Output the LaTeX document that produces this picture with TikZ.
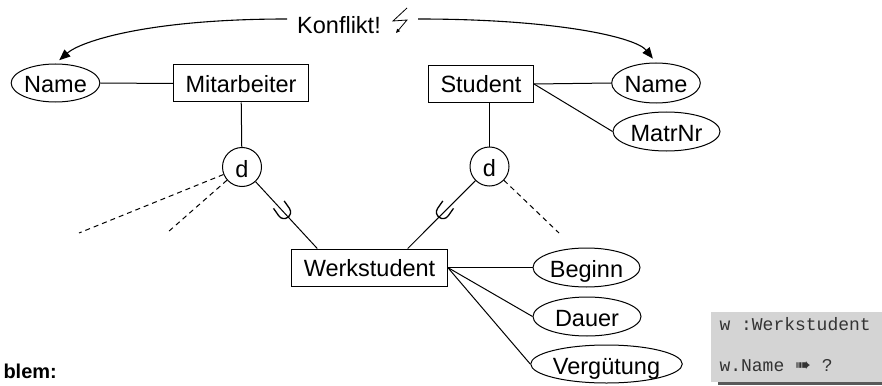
\documentclass[tikz,border=0pt]{standalone}
\usepackage{fontspec}
\setmainfont{Liberation Sans}
\setmonofont{Liberation Mono}
\newfontfamily\dejavu{DejaVu Sans}
\usetikzlibrary{shapes.geometric,arrows.meta,calc}
\definecolor{boxgray}{HTML}{D4D4D4}
\definecolor{shadowgray}{HTML}{595959}
\definecolor{codetext}{HTML}{333333}
\begin{document}
\begin{tikzpicture}[x=1pt,y=-1pt,line width=1pt,
  lbl/.style={font=\fontsize{23.5}{27}\selectfont},
  ent/.style={lbl,draw,rectangle,minimum height=37pt,inner xsep=12pt,inner ysep=0pt,text height=18pt,text depth=0pt},
  attr/.style={lbl,draw,ellipse,inner sep=0pt,text height=20pt,text depth=0pt},
  disj/.style={lbl,draw,circle,minimum size=39pt,inner sep=0pt,text height=20pt,text depth=0pt},
  dconn/.style={dash pattern=on 5pt off 4pt},
  arr/.style={line width=1.1pt,-{Triangle[length=11pt,width=9pt]},shorten >=5pt},
  unionsym/.style={line width=1.3pt},
  codeline/.style={anchor=base west,inner sep=0pt,text=codetext,font=\ttfamily\fontsize{18}{20}\selectfont}
]
\useasboundingbox (0,0) rectangle (882,385);

% entities
\node[ent] (mit)  at (241,83.5)  {Mitarbeiter};
\node[ent] (stud) at (481,84)    {Student};
\node[ent] (werk) at (369.5,267.5) {Werkstudent};

% attributes
\node[attr,minimum width=87pt,minimum height=38pt]  (name1) at (55.5,83)   {Name};
\node[attr,minimum width=86pt,minimum height=40pt]  (name2) at (656,83)    {Name};
\node[attr,minimum width=107pt,minimum height=39pt] (matr)  at (666.5,131.5) {MatrNr};
\node[attr,minimum width=107pt,minimum height=39pt] (beg)   at (586.5,267.5) {Beginn};
\node[attr,minimum width=108pt,minimum height=39pt] (dau)   at (587,316.5) {Dauer};
\node[attr,minimum width=143pt,minimum height=38pt] (verg)  at (606.5,364) {Vergütung};

% disjointness circles
\node[disj] (d1) at (242,167) {d};
\node[disj] (d2) at (489.5,166.5) {d};

% connectors
\draw (name1.east) -- (mit.west);
\draw (mit) -- (d1);
\draw (stud.east) -- (name2.west);
\draw (stud.east) -- (matr.west);
\draw (d2) -- (d2 |- stud.south);
\draw (d1) -- ($(werk.north west)+(26,0)$);
\draw (d2) -- ($(werk.north east)+(-40,0)$);
\draw (werk.east) -- (beg.west);
\draw (werk.east) -- (dau.west);
\draw (werk.east) -- (verg.west);

% union symbols
\draw[unionsym,shift={(284,212)},rotate=35] (-6.5,-9) -- (-6.5,0) .. controls (-6.5,8.7) and (6.5,8.7) .. (6.5,0) -- (6.5,-9);
\draw[unionsym,shift={(443,212)},rotate=-35] (-6.5,-9) -- (-6.5,0) .. controls (-6.5,8.7) and (6.5,8.7) .. (6.5,0) -- (6.5,-9);

% dashed continuations
\coordinate (dl1) at (79,233);
\coordinate (dl2) at (168,232);
\coordinate (dr1) at (559,233);
\draw[dconn] (d1) -- (dl1);
\draw[dconn] (d1) -- (dl2);
\draw[dconn] (d2) -- (dr1);

% conflict
\node[lbl,anchor=base,inner sep=0pt] (konf) at (339,34) {Konflikt!};
\coordinate (kL) at (287,19);
\coordinate (kR) at (418,19);
\draw[line width=0.8pt,-{Triangle[length=4pt,width=3.5pt]}] (407,8) -- (393,21) -- (407,20) -- (396,33);
\draw[arr] (kL) .. controls +(-140,0) and +(25,-22) .. (name1.north);
\draw[arr] (kR) .. controls +(140,0) and +(-20,-25) .. (name2.north);

% problem label (cut off in the reference)
\node[anchor=base west,inner sep=0pt,font=\bfseries\fontsize{20}{24}\selectfont] (prob) at (3,378) {blem:};

% code box
\fill[shadowgray] (718,381) rectangle (882,385);
\node[fill=boxgray,minimum width=172pt,minimum height=70pt,anchor=north west,inner sep=0pt] (code) at (710,311) {};
\node[codeline] (c1) at (719,330) {w :Werkstudent};
\node[codeline] (c2) at (719,371) {w.Name {\dejavu\fontsize{19}{20}\selectfont ➠} ?};
\end{tikzpicture}
\end{document}
